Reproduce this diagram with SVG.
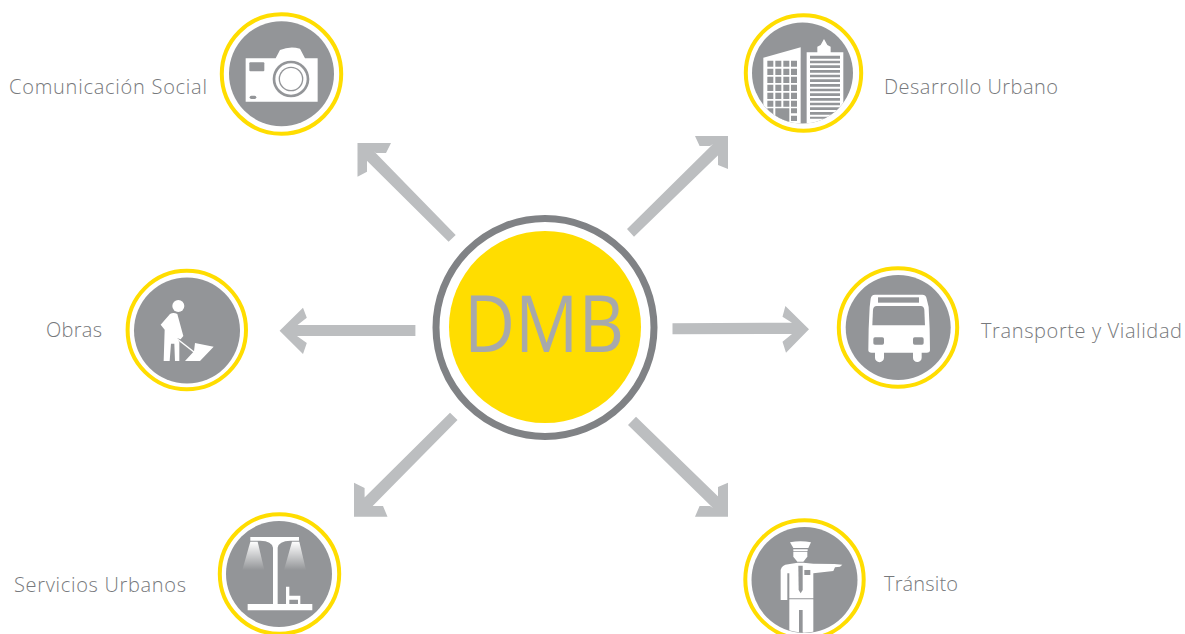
<svg xmlns="http://www.w3.org/2000/svg" width="1185" height="634" viewBox="0 0 1185 634">
<style>
.ring{fill:#fff;stroke:#ffdd00;stroke-width:4}
.disc{fill:#939598}
.w{fill:#fff}
.g{fill:#939598}
.lbl{font-family:"Open Sans","Liberation Sans",sans-serif;font-weight:300;font-size:20px;fill:#77797c}
.arrow{fill:#bcbec0}
</style>
<defs>
<linearGradient id="cone" x1="0" y1="0" x2="0" y2="1"><stop offset="0" stop-color="#fff"/><stop offset="1" stop-color="#fff" stop-opacity="0"/></linearGradient>
<clipPath id="cBuild"><circle cx="202.5" cy="204" r="151.5"/></clipPath>
<clipPath id="cPol"><circle cx="208" cy="209" r="159"/></clipPath>
</defs>
<rect width="1185" height="634" fill="#fff"/>
<g id="connectors">
<polygon class="arrow" points="357.5,143 391,143 386,153 376,153 373.5,150.7 455.7,235 448.6,241.7 365.4,159.3 367,160 367,171.7 357.5,176.7"/>
<polygon class="arrow" points="728,136 695,136 699.6,146 710,146 713,144 627,229 634,236.7 720.7,152.7 718,155 718,165 728,169"/>
<polygon class="arrow" points="354,516.7 354,482.7 364.6,488 364.6,498 362,500 450,412.7 457.5,420 370.7,508 372.5,506 383,506 387.5,516.7"/>
<polygon class="arrow" points="728,516.7 695,516.7 699.6,506 710,506 713,508 628,425 636,416.7 720.7,499 718,497.7 718,487 728,482.7"/>
<polygon class="arrow" points="279.6,330.7 303,307.7 306.8,317.7 297.5,325 415.4,325 415.4,336 297,336 306.8,343 303,354"/>
<polygon class="arrow" points="672.5,323.3 672.5,334.3 792,334 782.5,341.7 786,352.7 809,329.3 785.4,306 782.5,316.7 792,322.7"/>
</g>
<g id="dmb">
<circle cx="545" cy="327.5" r="109" fill="#fff" stroke="#808285" stroke-width="7"/>
<circle cx="545" cy="327" r="96" fill="#ffdd00"/>
<text x="464" y="352" textLength="160" lengthAdjust="spacingAndGlyphs" font-family="'Open Sans','Liberation Sans',sans-serif" font-weight="400" font-size="78" fill="#a7a9ac">DMB</text>
</g>
<g id="comunicacion">
<circle class="ring" cx="281.5" cy="74" r="59.7"/>
<circle class="disc" cx="281.5" cy="73.7" r="52.5"/>
<g transform="translate(210 5) scale(.3333)">
<path class="w" d="M107 160H197L210 135Q240 122 270 131L285 160H323V290H107Z"/>
<rect class="g" x="118" y="172" width="45" height="27" rx="3"/>
<rect class="g" x="119" y="272" width="20" height="10" rx="5"/>
<circle class="g" cx="243" cy="222" r="55"/><circle class="w" cx="243" cy="222" r="47"/><circle class="g" cx="243" cy="222" r="37"/><circle class="w" cx="243" cy="222" r="33"/>
</g>
<text class="lbl" x="9" y="94" textLength="198">Comunicación Social</text>
</g>
<g id="desarrollo">
<circle class="ring" cx="803.5" cy="73" r="57.7"/>
<circle class="disc" cx="802.5" cy="73" r="50.5"/>
<g transform="translate(735 5) scale(.3333)" clip-path="url(#cBuild)">
<path class="w" d="M85 158L197 127V360H85Z"/>
<path class="g" d="M97 167h18v18H97zM121 167h18v18h-18zM145 167h18v18h-18zM168 167h18v18h-18zM97 191h18v19H97zM121 191h18v19h-18zM145 191h18v19h-18zM168 191h18v19h-18zM97 215h18v19H97zM121 215h18v19h-18zM145 215h18v19h-18zM168 215h18v19h-18zM97 239h18v19H97zM121 239h18v19h-18zM145 239h18v19h-18zM168 239h18v19h-18zM97 263h18v19H97zM121 263h18v19h-18zM145 263h18v19h-18zM168 263h18v19h-18zM97 287h18v18H97zM121 287h18v18h-18zM145 287h18v18h-18zM168 287h18v18h-18zM97 310h18v20H97zM121 310h42v40h-42zM168 310h18v15h-18zM168 332h18v16h-18z"/>
<path class="w" d="M215 142H247V125L257 120L267 102L277 120L287 125V142H325V360H215Z"/>
<path class="g" d="M225 152h90v9h-90zM225 167h90v8h-90zM225 181h90v8h-90zM225 195h90v8h-90zM225 209h90v8h-90zM225 223h90v8h-90zM225 237h90v8h-90zM225 251h90v8h-90zM225 265h90v8h-90zM225 279h90v8h-90zM225 293h90v8h-90zM225 307h90v8h-90zM225 321h90v8h-90zM225 335h90v6h-90z"/>
</g>
<text class="lbl" x="884" y="94" textLength="174">Desarrollo Urbano</text>
</g>
<g id="obras">
<circle class="ring" cx="186.8" cy="330" r="59.2"/>
<circle class="disc" cx="187" cy="330.5" r="53"/>
<g transform="translate(120 262) scale(.3333)">
<circle class="w" cx="175" cy="132" r="18"/>
<path class="w" d="M150 156L122 188L134 203L131 297H149L153 245H163L165 297H178V240L170 228L182 232L190 222L172 156Q160 150 150 156Z"/>
<path d="M168 228L222 270" stroke="#fff" stroke-width="4.5" fill="none"/>
<path class="w" d="M225 243L281 254L240 297H195L222 268Z"/>
</g>
<text class="lbl" x="46" y="337" textLength="56">Obras</text>
</g>
<g id="transporte">
<circle class="ring" cx="898" cy="327.5" r="59.2"/>
<circle class="disc" cx="898.2" cy="327.5" r="52.5"/>
<g transform="translate(830 262) scale(.3333)">
<path class="w" d="M135 98H277Q288 98 290 110L296 135Q300 200 300 265Q300 272 290 272H275V287A13 13 0 0 1 249 287V272H162V287A13 13 0 0 1 135 287V272H125Q115 272 115 265Q115 200 119 135L122 110Q124 98 135 98Z"/>
<rect class="g" x="144" y="106" width="123" height="16"/>
<path class="g" d="M140 132H272Q282 133 283 143L285 190H127L129 143Q130 133 140 132Z"/>
<rect class="g" x="130" y="226" width="32" height="22" rx="5"/>
<rect class="g" x="249" y="226" width="32" height="22" rx="5"/>
</g>
<text class="lbl" x="981" y="338" textLength="201">Transporte y Vialidad</text>
</g>
<g id="servicios">
<circle class="ring" cx="279.5" cy="574" r="59.7"/>
<circle class="disc" cx="279" cy="574" r="53"/>
<g transform="translate(212 505) scale(.3333)">
<path fill="url(#cone)" d="M115 110H137L157 195H91Z"/>
<path fill="url(#cone)" d="M240 110H262L282 195H216Z"/>
<path class="w" d="M115 96H261V107H235Q200 108 197 128V297H301V316H107V297H183V128Q180 108 145 107H115Z"/>
<path class="w" d="M222 245H232V272H265V297H258V284H232V297H222Z"/>
</g>
<text class="lbl" x="14" y="592" textLength="172">Servicios Urbanos</text>
</g>
<g id="transito">
<circle class="ring" cx="804.5" cy="579.5" r="59.2"/>
<circle class="disc" cx="804.5" cy="580" r="53"/>
<g transform="translate(735 510) scale(.3333)" clip-path="url(#cPol)">
<path class="w" d="M165 97Q197 90 228 97L220 114H175Z"/>
<path class="w" d="M175 118H218V123H175Z"/>
<path class="w" d="M175 125H217V140L205 155H187L175 140Z"/>
<path class="w" d="M137 180Q140 165 160 163L188 158L205 158L235 161L298 162L322 164L315 170L300 172L295 183L235 190V265H163V190H157V270H137Z"/>
<path class="w" d="M163 268H235V380H203V300H192V380H163Z"/>
<path class="g" d="M190 167H203V240L197 250L191 240Z"/>
<rect class="g" x="208" y="180" width="18" height="15"/>
</g>
<text class="lbl" x="884" y="591" textLength="74">Tránsito</text>
</g>
</svg>
